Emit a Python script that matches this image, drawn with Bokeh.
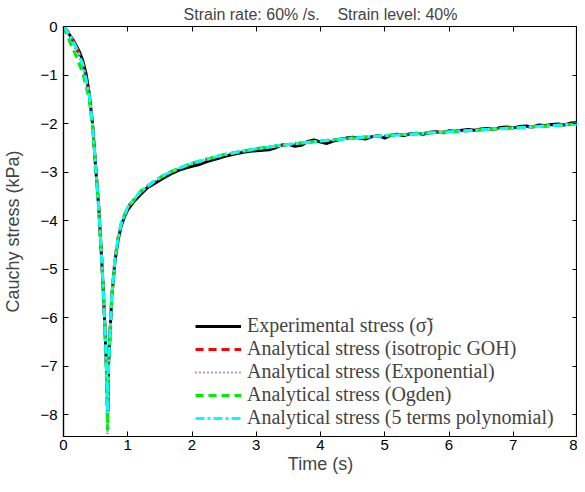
from bokeh.plotting import figure
from bokeh.models import LinearAxis, Range1d, FixedTicker, Legend, LegendItem
from bokeh.embed import file_html
from bokeh.resources import INLINE

# ---- data ----
t_exp = [0, 0.05, 0.1, 0.15, 0.2, 0.25, 0.3, 0.35, 0.4, 0.45, 0.5, 0.55, 0.6, 0.63, 0.66,
         0.68, 0.69, 0.70, 0.72, 0.75, 0.8, 0.85, 0.9, 0.95, 1.0, 1.1, 1.2, 1.3, 1.4, 1.5,
         1.6, 1.7, 1.8, 1.9, 2.0, 2.1, 2.2, 2.3, 2.4, 2.5, 2.6, 2.7, 2.8, 2.9, 3.0, 3.1,
         3.2, 3.3, 3.4, 3.5, 3.6, 3.7, 3.8, 3.9, 4.0, 4.1, 4.2, 4.3, 4.4, 4.5, 4.6, 4.7,
         4.8, 4.9, 5.0, 5.1, 5.2, 5.3, 5.4, 5.5, 5.6, 5.7, 5.8, 5.9, 6.0, 6.1, 6.2, 6.3,
         6.4, 6.5, 6.6, 6.7, 6.8, 6.9, 7.0, 7.1, 7.2, 7.3, 7.4, 7.5, 7.6, 7.7, 7.8, 7.9, 8.0]
s_exp = [0, -0.08, -0.18, -0.28, -0.40, -0.53, -0.70, -0.97, -1.38, -1.98, -2.90, -3.75, -4.95,
         -5.75, -6.70, -7.50, -7.95, -7.00, -6.45, -5.60, -4.85, -4.40, -4.10, -3.92, -3.78,
         -3.60, -3.46, -3.33, -3.25, -3.17, -3.09, -3.02, -2.96, -2.92, -2.88, -2.85, -2.80,
         -2.76, -2.72, -2.68, -2.65, -2.62, -2.59, -2.57, -2.56, -2.55, -2.54, -2.50, -2.44,
         -2.43, -2.47, -2.45, -2.37, -2.34, -2.38, -2.41, -2.36, -2.33, -2.30, -2.28, -2.30,
         -2.32, -2.27, -2.25, -2.30, -2.24, -2.22, -2.25, -2.21, -2.20, -2.22, -2.18, -2.17,
         -2.19, -2.15, -2.16, -2.14, -2.12, -2.14, -2.11, -2.10, -2.12, -2.08, -2.07, -2.09,
         -2.06, -2.05, -2.07, -2.03, -2.04, -2.02, -2.01, -2.03, -1.99, -1.98]

t_fit = [0, 0.1, 0.2, 0.3, 0.4, 0.45, 0.5, 0.55, 0.6, 0.63, 0.66, 0.685, 0.70, 0.72, 0.75,
         0.8, 0.85, 0.9, 1.0, 1.2, 1.4, 1.6, 1.8, 2.0, 2.5, 3.0, 3.5, 4.0, 4.5, 5.0, 5.5,
         6.0, 6.5, 7.0, 7.5, 8.0]
s_goh = [0, -0.16, -0.42, -0.76, -1.40, -2.00, -2.85, -3.75, -4.90, -5.75, -6.65, -8.05,
         -7.00, -6.45, -5.60, -4.80, -4.35, -4.05, -3.72, -3.40, -3.20, -3.04, -2.92, -2.82,
         -2.64, -2.52, -2.43, -2.36, -2.30, -2.25, -2.21, -2.17, -2.13, -2.09, -2.05, -2.01]
s_exp_model = [0, -0.22, -0.50, -0.82, -1.42, -2.02, -2.88, -3.78, -4.92, -5.78, -6.70, -8.40,
               -7.02, -6.47, -5.62, -4.81, -4.36, -4.06, -3.73, -3.41, -3.20, -3.04, -2.92,
               -2.82, -2.64, -2.52, -2.43, -2.36, -2.30, -2.25, -2.21, -2.17, -2.13, -2.09,
               -2.05, -2.01]
s_ogden = [0, -0.32, -0.62, -0.96, -1.50, -2.06, -2.90, -3.80, -4.95, -5.80, -6.72, -8.32,
           -7.05, -6.48, -5.62, -4.82, -4.36, -4.06, -3.73, -3.41, -3.20, -3.04, -2.92,
           -2.82, -2.64, -2.52, -2.43, -2.36, -2.30, -2.25, -2.21, -2.17, -2.13, -2.09,
           -2.05, -2.01]
s_poly = [0, -0.18, -0.44, -0.78, -1.40, -2.00, -2.86, -3.76, -4.90, -5.76, -6.66, -7.97,
          -7.00, -6.45, -5.60, -4.80, -4.35, -4.05, -3.72, -3.40, -3.20, -3.04, -2.92, -2.82,
          -2.64, -2.52, -2.43, -2.36, -2.30, -2.25, -2.21, -2.17, -2.13, -2.09, -2.05, -2.01]

x_ticks = [0, 1, 2, 3, 4, 5, 6, 7, 8]
y_ticks = [0, -1, -2, -3, -4, -5, -6, -7, -8]
y_tick_labels = ["0", "\u22121", "\u22122", "\u22123", "\u22124", "\u22125", "\u22126", "\u22127", "\u22128"]
labels = ["Experimental stress (\u03c3\u0303)",
          "Analytical stress (isotropic GOH)",
          "Analytical stress (Exponential)",
          "Analytical stress (Ogden)",
          "Analytical stress (5 terms polynomial)"]
title_text = "Strain rate: 60% /s.\u00a0\u00a0\u00a0\u00a0Strain level: 40%"

SANS = "Liberation Sans"
SERIF = "Liberation Serif"
X_MIN, X_MAX, Y_MIN, Y_MAX = 0, 8, -8.45, 0

p = figure(width=577, height=476, output_backend="svg", toolbar_location=None,
           x_range=Range1d(X_MIN, X_MAX), y_range=Range1d(Y_MIN, Y_MAX),
           min_border_left=0, min_border_right=0, min_border_top=0, min_border_bottom=0)
p.title.text = title_text
p.title.align = "center"
p.title.text_font = SANS
p.title.text_font_size = "16px"
p.title.text_font_style = "normal"
p.title.standoff = 7

p.xgrid.visible = False
p.ygrid.visible = False
p.outline_line_color = "black"
p.outline_line_width = 1.2

for ax in (p.xaxis[0], p.yaxis[0]):
    ax.major_tick_in = 5
    ax.major_tick_out = 0
    ax.minor_tick_out = 0
    ax.minor_tick_line_color = None
    ax.axis_line_width = 1.2
    ax.major_tick_line_width = 1
    ax.major_label_text_font = SANS
    ax.major_label_text_font_size = "15px"
    ax.axis_label_text_font = SANS
    ax.axis_label_text_font_size = "18px"
    ax.axis_label_text_font_style = "normal"
    ax.major_label_text_color = "black"

p.xaxis[0].ticker = FixedTicker(ticks=x_ticks)
p.yaxis[0].ticker = FixedTicker(ticks=y_ticks)
p.yaxis[0].major_label_overrides = {v: l for v, l in zip(y_ticks, y_tick_labels)}
p.xaxis[0].axis_label = "Time (s)"
p.yaxis[0].axis_label = "Cauchy stress (kPa)"
p.xaxis[0].major_label_standoff = 3
p.xaxis[0].axis_label_standoff = 1
p.yaxis[0].major_label_standoff = 6
p.yaxis[0].axis_label_standoff = 14

for loc, ticks, fixed in (("above", x_ticks, Y_MAX), ("right", y_ticks, X_MAX)):
    ax = LinearAxis(ticker=FixedTicker(ticks=ticks), fixed_location=fixed)
    ax.major_tick_in = 5
    ax.major_tick_out = 0
    ax.minor_tick_out = 0
    ax.minor_tick_line_color = None
    ax.major_label_text_color = None
    ax.major_label_text_font_size = "1px"
    ax.major_label_standoff = 0
    ax.axis_line_width = 1.2
    p.add_layout(ax, loc)

r0 = p.line(t_exp, s_exp, line_color="black", line_width=3)
r1 = p.line(t_fit, s_goh, line_color="red", line_width=3, line_dash="8 5")
r2 = p.line(t_fit, s_exp_model, line_color="#3535ff", line_width=2, line_dash="1 3")
r3 = p.line(t_fit, s_ogden, line_color="#00ee00", line_width=3, line_dash="8 5")
r4 = p.line(t_fit, s_poly, line_color="cyan", line_width=3, line_dash="9 3 3 3")

legend = Legend(items=[LegendItem(label=l, renderers=[r]) for l, r in zip(labels, [r0, r1, r2, r3, r4])],
                location=(128, 3))
legend.label_text_font = SERIF
legend.label_text_font_size = "20px"
legend.glyph_width = 46
legend.glyph_height = 22
legend.label_height = 22
legend.spacing = 0
legend.label_standoff = 6
legend.padding = 4
legend.margin = 0
legend.border_line_alpha = 0
legend.background_fill_alpha = 0
p.add_layout(legend)

open("out.html", "w").write(file_html(p, INLINE))
